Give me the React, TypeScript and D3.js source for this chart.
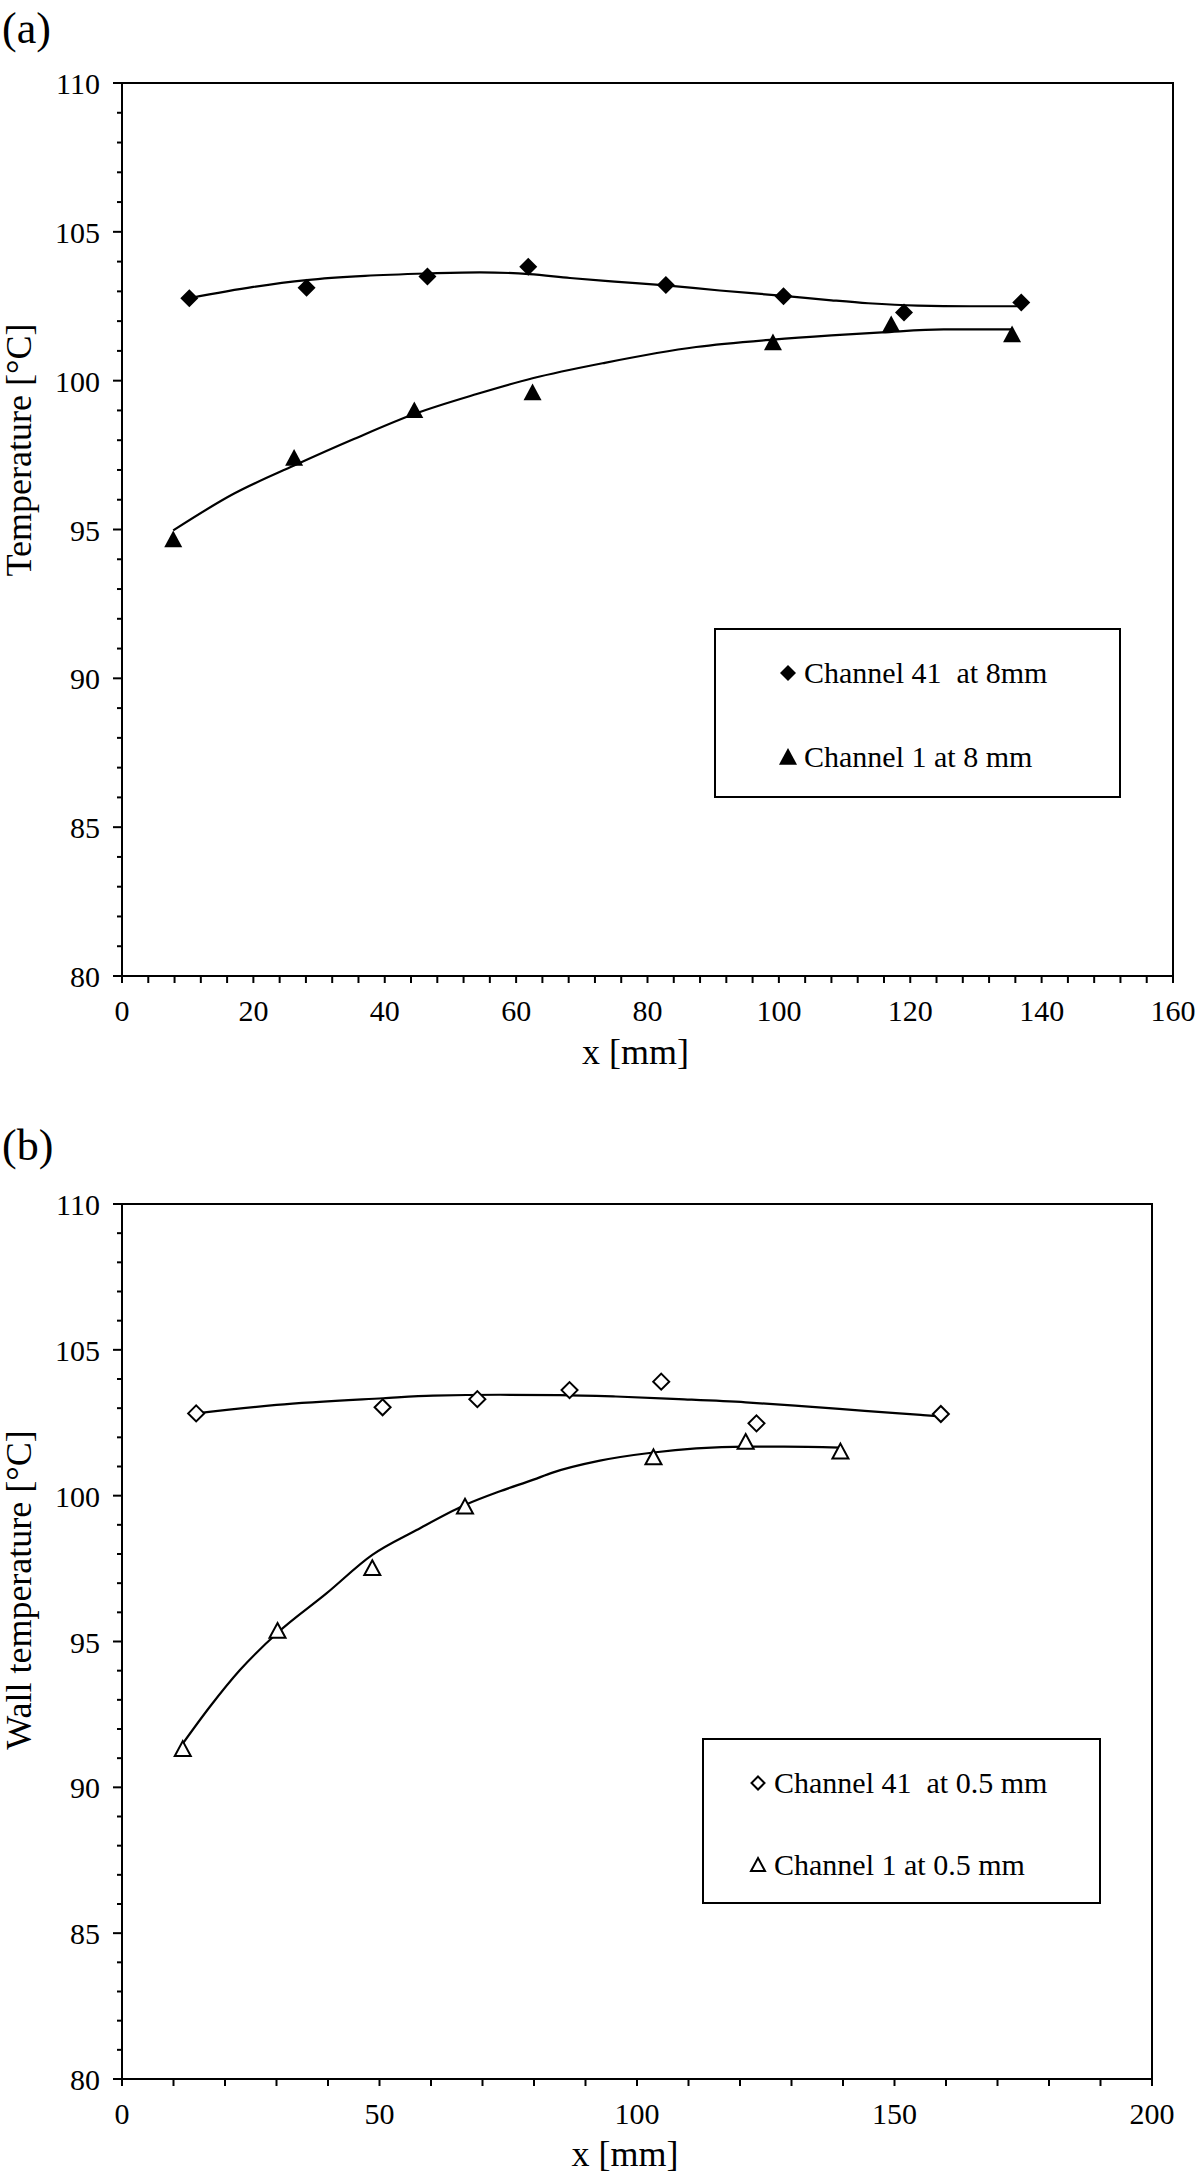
import React from "react";
import * as d3 from "d3";

// ---------- data (panel a) ----------
const a41X = [10.25, 28.1, 46.5, 61.85, 82.8, 100.7, 119.05, 136.9];
const a41Y = [102.77, 103.12, 103.5, 103.83, 103.21, 102.84, 102.29, 102.63];
const a1X = [7.8, 26.2, 44.5, 62.5, 99.1, 117.1, 135.5];
const a1Y = [94.66, 97.4, 99.0, 99.6, 101.28, 101.89, 101.55];
// trend lines
const a41FitX = [10.25, 20, 28.1, 37, 46.5, 54.5, 62, 68.2, 75, 82.8, 91, 100.7, 108, 113.6, 121.1, 129, 136.9];
const a41FitY = [102.77, 103.15, 103.38, 103.52, 103.6, 103.64, 103.58, 103.45, 103.33, 103.2, 103.03, 102.85, 102.7, 102.6, 102.52, 102.5, 102.5];
const a1FitX = [7.8, 17, 26.2, 35.3, 44.5, 54, 62.5, 73.5, 87.4, 99.1, 108, 115.7, 125.1, 135.5];
const a1FitY = [94.97, 96.2, 97.15, 98.04, 98.88, 99.55, 100.08, 100.6, 101.13, 101.38, 101.52, 101.62, 101.72, 101.72];

// ---------- data (panel b) ----------
const b41X = [14.4, 50.6, 69.0, 86.9, 104.7, 123.2, 159.0];
const b41Y = [102.82, 103.03, 103.31, 103.62, 103.91, 102.48, 102.8];
const b1X = [11.8, 30.2, 48.6, 66.6, 103.2, 121.1, 139.5];
const b1Y = [91.31, 95.36, 97.51, 99.62, 101.31, 101.84, 101.51];
const b41FitX = [14.4, 30, 50.7, 60.4, 73.4, 85, 95.9, 108.1, 121.1, 132, 144.2, 155.1, 159];
const b41FitY = [102.82, 103.11, 103.34, 103.43, 103.46, 103.45, 103.4, 103.31, 103.2, 103.07, 102.91, 102.77, 102.72];
const b1FitX = [11.8, 17.1, 22.9, 30.2, 39.7, 48.6, 57.2, 66.6, 73.4, 79.9, 83.6, 92.8, 103.2, 111.5, 121.1, 128.5, 139.5];
const b1FitY = [91.5, 92.77, 94.02, 95.3, 96.65, 97.97, 98.82, 99.68, 100.15, 100.55, 100.79, 101.2, 101.48, 101.62, 101.68, 101.68, 101.65];

// ---------- ticks / labels ----------
const aXTicks = [0, 20, 40, 60, 80, 100, 120, 140, 160];
const bXTicks = [0, 50, 100, 150, 200];
const yTicks = [80, 85, 90, 95, 100, 105, 110];
const aLegend = ["Channel 41  at 8mm", "Channel 1 at 8 mm"];
const bLegend = ["Channel 41  at 0.5 mm", "Channel 1 at 0.5 mm"];

const FONT = "'Liberation Serif', 'Times New Roman', Times, serif";

type Panel = {
  tag: string;
  tagY: number;
  left: number; right: number; top: number; bottom: number;
  xMax: number; xTicks: number[]; xMinor: number;
  yTitle: string; yTitleCenter: number; xTitleY: number;
  s41: { x: number[]; y: number[] };
  s1: { x: number[]; y: number[] };
  f41: { x: number[]; y: number[] };
  f1: { x: number[]; y: number[] };
  filled: boolean;
  legend: string[];
  legBox: [number, number, number, number];
  legTextX: number; legMarkX: number; legRowY: [number, number];
};

const panels: Panel[] = [
  {
    tag: "(a)", tagY: 43,
    left: 122, right: 1173, top: 83, bottom: 976,
    xMax: 160, xTicks: aXTicks, xMinor: 4,
    yTitle: "Temperature [°C]", yTitleCenter: 450, xTitleY: 1064,
    s41: { x: a41X, y: a41Y }, s1: { x: a1X, y: a1Y },
    f41: { x: a41FitX, y: a41FitY }, f1: { x: a1FitX, y: a1FitY },
    filled: true, legend: aLegend,
    legBox: [715, 629, 1120, 797], legTextX: 804, legMarkX: 788, legRowY: [683, 767],
  },
  {
    tag: "(b)", tagY: 1160,
    left: 122, right: 1152, top: 1204, bottom: 2079,
    xMax: 200, xTicks: bXTicks, xMinor: 10,
    yTitle: "Wall temperature [°C]", yTitleCenter: 1590, xTitleY: 2166,
    s41: { x: b41X, y: b41Y }, s1: { x: b1X, y: b1Y },
    f41: { x: b41FitX, y: b41FitY }, f1: { x: b1FitX, y: b1FitY },
    filled: false, legend: bLegend,
    legBox: [703, 1739, 1100, 1903], legTextX: 774, legMarkX: 758, legRowY: [1793, 1875],
  },
];

function diamond(cx: number, cy: number, r: number) {
  return `M${cx},${cy - r}L${cx + r},${cy}L${cx},${cy + r}L${cx - r},${cy}Z`;
}
function triangle(cx: number, cy: number, r: number) {
  return `M${cx},${cy - r}L${cx + r},${cy + r * 0.85}L${cx - r},${cy + r * 0.85}Z`;
}

function PanelView({ p }: { p: Panel }) {
  const x = d3.scaleLinear().domain([0, p.xMax]).range([p.left, p.right]);
  const y = d3.scaleLinear().domain([80, 110]).range([p.bottom, p.top]);
  const line = d3
    .line<[number, number]>()
    .x((d) => x(d[0]))
    .y((d) => y(d[1]))
    .curve(d3.curveMonotoneX);
  const zip = (s: { x: number[]; y: number[] }) =>
    s.x.map((v, i) => [v, s.y[i]] as [number, number]);
  const yMinor = d3.range(80, 110.001, 1);
  const xMinor = d3.range(0, p.xMax + 0.001, p.xMinor);
  const fill = p.filled ? "#000" : "#fff";
  const sw = p.filled ? 0 : 2;
  const mr = p.filled ? 9 : 8;
  const [lx0, ly0, lx1, ly1] = p.legBox;

  return (
    <g>
      <text x={2} y={p.tagY} fontSize={44} fontFamily={FONT}>{p.tag}</text>
      {/* frame */}
      <rect x={p.left} y={p.top} width={p.right - p.left} height={p.bottom - p.top}
        fill="none" stroke="#000" strokeWidth={2} />
      {/* y ticks */}
      {yMinor.map((v) => (
        <line key={"ym" + v} x1={p.left - (v % 5 === 0 ? 9 : 5)} x2={p.left}
          y1={y(v)} y2={y(v)} stroke="#000" strokeWidth={2} />
      ))}
      {yTicks.map((v) => (
        <text key={"yl" + v} x={100} y={y(v) + 11} textAnchor="end" fontSize={30} fontFamily={FONT}>{v}</text>
      ))}
      {/* x ticks */}
      {xMinor.map((v) => (
        <line key={"xm" + v} x1={x(v)} x2={x(v)} y1={p.bottom} y2={p.bottom + 7}
          stroke="#000" strokeWidth={2} />
      ))}
      {p.xTicks.map((v) => (
        <text key={"xl" + v} x={x(v)} y={p.bottom + 45} textAnchor="middle" fontSize={30} fontFamily={FONT}>{v}</text>
      ))}
      <text x={(p.left + p.right) / 2 - 12} y={p.xTitleY} textAnchor="middle" fontSize={36} fontFamily={FONT}>x [mm]</text>
      <text transform={`translate(31,${p.yTitleCenter}) rotate(-90)`} textAnchor="middle" fontSize={36} fontFamily={FONT}>{p.yTitle}</text>
      {/* trend lines */}
      <path d={line(zip(p.f41)) || ""} fill="none" stroke="#000" strokeWidth={2.2} />
      <path d={line(zip(p.f1)) || ""} fill="none" stroke="#000" strokeWidth={2.2} />
      {/* markers */}
      {zip(p.s41).map(([a, b], i) => (
        <path key={"d" + i} d={diamond(x(a), y(b), mr)} fill={fill} stroke="#000" strokeWidth={sw} />
      ))}
      {zip(p.s1).map(([a, b], i) => (
        <path key={"t" + i} d={triangle(x(a), y(b), mr)} fill={fill} stroke="#000" strokeWidth={sw} />
      ))}
      {/* legend */}
      <rect x={lx0} y={ly0} width={lx1 - lx0} height={ly1 - ly0} fill="#fff" stroke="#000" strokeWidth={2} />
      <path d={diamond(p.legMarkX, p.legRowY[0] - 10, p.filled ? 8 : 6.5)} fill={fill} stroke="#000" strokeWidth={sw} />
      <path d={triangle(p.legMarkX, p.legRowY[1] - 10, p.filled ? 9 : 7)} fill={fill} stroke="#000" strokeWidth={sw} />
      <text x={p.legTextX} y={p.legRowY[0]} fontSize={30} fontFamily={FONT} style={{ whiteSpace: "pre" }}>{p.legend[0]}</text>
      <text x={p.legTextX} y={p.legRowY[1]} fontSize={30} fontFamily={FONT} style={{ whiteSpace: "pre" }}>{p.legend[1]}</text>
    </g>
  );
}

export default function App() {
  return (
    <svg width={1200} height={2173} viewBox="0 0 1200 2173"
      style={{ position: "absolute", left: 0, top: 0, background: "#fff" }}>
      <rect width={1200} height={2173} fill="#fff" />
      {panels.map((p) => (
        <PanelView key={p.tag} p={p} />
      ))}
    </svg>
  );
}
